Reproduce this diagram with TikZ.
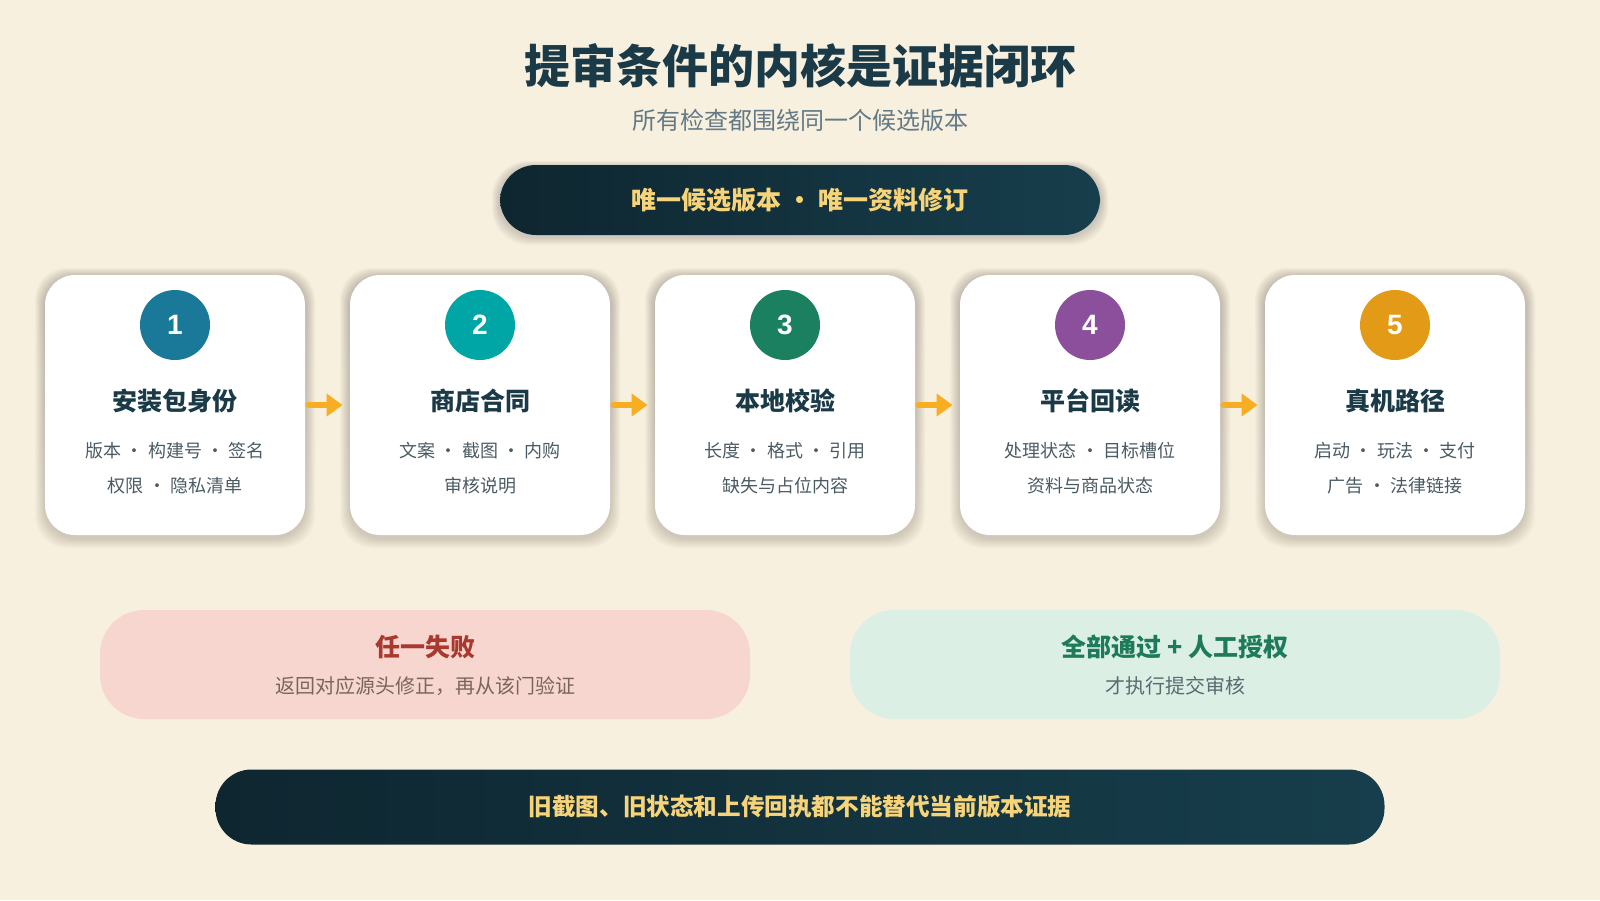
\documentclass[tikz,border=0pt]{standalone}
\usepackage{fontspec}
\setmainfont{Noto Sans CJK SC}
\newfontfamily\digitfont{Liberation Sans}
\usetikzlibrary{arrows.meta,positioning}
\definecolor{bg}{HTML}{F8F0DF}
\definecolor{ink}{HTML}{1B3A48}
\definecolor{subtx}{HTML}{637A86}
\definecolor{bodytx}{HTML}{4B5B64}
\definecolor{pillA}{HTML}{0E2630}
\definecolor{pillB}{HTML}{173E4C}
\definecolor{gold}{HTML}{F7D37A}
\definecolor{arrowc}{HTML}{F7AE22}
\definecolor{shade}{HTML}{8A7750}
\definecolor{cA}{HTML}{1A7899}
\definecolor{cB}{HTML}{00A6A6}
\definecolor{cC}{HTML}{1A8060}
\definecolor{cD}{HTML}{8B4F9B}
\definecolor{cE}{HTML}{E39B17}
\definecolor{failbg}{HTML}{F7D6CF}
\definecolor{failtx}{HTML}{A8392F}
\definecolor{failsub}{HTML}{7A6658}
\definecolor{passbg}{HTML}{DCEFE5}
\definecolor{passtx}{HTML}{1D7B5B}
\definecolor{passsub}{HTML}{5B6B70}

\begin{document}
\begin{tikzpicture}[x=0.5pt,y=-0.5pt,
  txt/.style={inner sep=0pt,anchor=center},
  card/.style={fill=white,rounded corners=15pt,minimum width=130pt,minimum height=130pt,inner sep=0pt},
  numdot/.style={circle,minimum size=35pt,inner sep=0pt,text=white,font=\digitfont\fontsize{14pt}{16pt}\selectfont\bfseries},
  pill/.style={rounded corners=18pt,inner sep=0pt,left color=pillA,right color=pillB,text=gold},
  note/.style={rounded corners=22pt,minimum width=325pt,minimum height=54.5pt,inner sep=0pt},
  flow/.style={arrowc,line width=3pt,line cap=round,-{Triangle[length=8pt,width=11pt]},shorten <=1.5pt,shorten >=3.5pt}]
  \fill[bg] (0,0) rectangle (1600,900);
  \useasboundingbox (0,0) rectangle (1600,900);

  \node[txt,text=ink,font=\fontsize{23pt}{28pt}\selectfont\bfseries] (title) at (800,66) {提审条件的内核是证据闭环};
  \node[txt,text=subtx,font=\fontsize{12pt}{14pt}\selectfont] (subtitle) at (800,120) {所有检查都围绕同一个候选版本};

  \foreach \k in {1,...,8}
    \fill[shade,opacity=0.02,rounded corners=18pt] (500-\k,169-\k) rectangle (1100+\k,237+\k);
  \node[pill,minimum width=300pt,minimum height=35pt,font=\fontsize{12.5pt}{15pt}\selectfont\bfseries] (gate) at (800,200) {唯一候选版本 · 唯一资料修订};

  \foreach \i/\col/\ttl/\la/\lb in {1/cA/安装包身份/版本 · 构建号 · 签名/权限 · 隐私清单,
      2/cB/商店合同/文案 · 截图 · 内购/审核说明,
      3/cC/本地校验/长度 · 格式 · 引用/缺失与占位内容,
      4/cD/平台回读/处理状态 · 目标槽位/资料与商品状态,
      5/cE/真机路径/启动 · 玩法 · 支付/广告 · 法律链接} {
    \pgfmathsetmacro{\cx}{175+305*(\i-1)}
    \foreach \k in {1,...,10}
      \fill[shade,opacity=0.016,rounded corners=16pt] (\cx-130-\k,278-\k) rectangle (\cx+130+\k,538+\k);
    \node[card] (card\i) at (\cx,405) {};
    \node[numdot,fill=\col] (num\i) at (\cx,325) {\i};
    \node[txt,text=ink,font=\fontsize{12.5pt}{15pt}\selectfont\bfseries] (head\i) at (\cx,401) {\ttl};
    \node[txt,text=bodytx,font=\fontsize{9pt}{11pt}\selectfont] (lineA\i) at (\cx,451) {\la};
    \node[txt,text=bodytx,font=\fontsize{9pt}{11pt}\selectfont] (lineB\i) at (\cx,486) {\lb};
  }
  \foreach \i [evaluate=\i as \j using int(\i+1)] in {1,...,4}
    \draw[flow] (card\i.east) -- (card\j.west);

  \node[note,fill=failbg] (fail) at (425,664.5) {};
  \node[txt,text=failtx,font=\fontsize{12.5pt}{15pt}\selectfont\bfseries] (failhead) at (425,647) {任一失败};
  \node[txt,text=failsub,font=\fontsize{10pt}{12pt}\selectfont] (failtext) at (425,686) {返回对应源头修正，再从该门验证};

  \node[note,fill=passbg] (pass) at (1175,664.5) {};
  \node[txt,text=passtx,font=\fontsize{12.5pt}{15pt}\selectfont\bfseries] (passhead) at (1175,647) {全部通过 + 人工授权};
  \node[txt,text=passsub,font=\fontsize{10pt}{12pt}\selectfont] (passtext) at (1175,686) {才执行提交审核};

  \node[pill,minimum width=584.5pt,minimum height=37.5pt,font=\fontsize{11.8pt}{14pt}\selectfont\bfseries] (rule) at (800,807) {旧截图、旧状态和上传回执都不能替代当前版本证据};
\end{tikzpicture}
\end{document}
